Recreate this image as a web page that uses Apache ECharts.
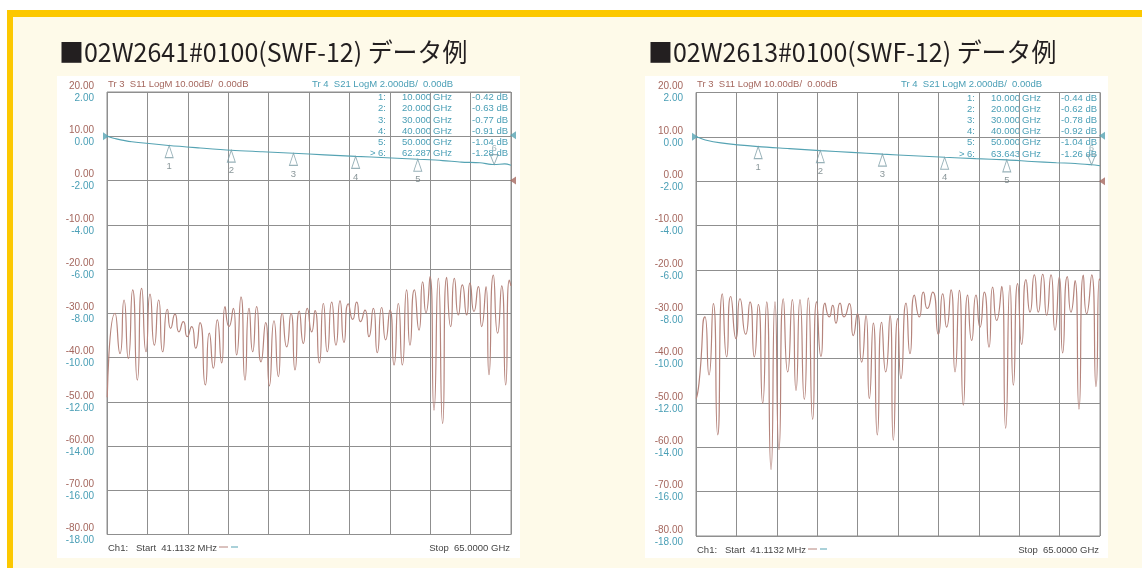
<!DOCTYPE html>
<html><head><meta charset="utf-8">
<script src="https://cdn.jsdelivr.net/npm/echarts@6/dist/echarts.min.js"></script>
<style>
html,body{margin:0;padding:0;background:#fff;}
#wrap{position:relative;width:1142px;height:568px;overflow:hidden;background:#fff;}
#cream{position:absolute;left:7px;top:10px;right:0;bottom:0;background:#fefae9;}
.band{position:absolute;background:#fcc800;}
.panel{position:absolute;background:#fff;}
#chart{position:absolute;left:0;top:0;width:1142px;height:568px;}
</style></head>
<body>
<div id="wrap">
  <div id="cream"></div>
  <div class="band" style="left:7px;top:10px;width:1135px;height:7px;"></div>
  <div class="band" style="left:7px;top:10px;width:6px;height:558px;"></div>
  <div class="panel" style="left:57px;top:76px;width:463px;height:482px;"></div>
  <div class="panel" style="left:645px;top:76px;width:463px;height:482px;"></div>
  <div id="chart"></div>
</div>
<script>
// ---------- data ----------
const TITLES = ['■02W2641#0100(SWF-12) データ例', '■02W2613#0100(SWF-12) データ例'];
const X_MIN = 0, X_MAX = 65, X_STEP = 6.5;               // GHz, 10 divisions
const S11_TICKS = [20, 10, 0, -10, -20, -30, -40, -50, -60, -70, -80];
const S21_TICKS = [2, 0, -2, -4, -6, -8, -10, -12, -14, -16, -18];

// Panel A (02W2641) S11 return loss trace
const S11_A_FREQ = [0.041,1.29,2.09,2.74,3.43,4.13,4.88,5.58,6.27,6.92,7.62,8.31,8.96,9.71,10.24,10.94,11.58,12.28,12.92,13.62,14.27,14.96,15.82,16.46,17.11,17.75,18.45,18.99,19.63,20.33,20.86,21.56,22.20,22.85,23.44,24.08,24.78,25.53,26.12,26.87,27.57,28.21,28.91,29.60,30.25,30.94,31.59,32.23,32.93,33.47,34.16,34.81,35.45,36.15,36.84,37.49,38.13,38.83,39.53,40.17,40.81,41.51,42.15,42.85,43.49,44.19,44.83,45.53,46.18,46.87,47.52,48.21,48.75,49.45,50.20,50.79,51.32,51.97,52.61,53.31,54.00,54.65,55.29,55.88,56.53,57.17,57.87,58.40,59.05,59.74,60.28,60.98,61.46,62.16,62.85,63.50,64.14,64.73,65.0];
const S11_A_DB = [-49.0,-30.0,-39.1,-27.0,-40.2,-24.7,-45.1,-24.4,-38.7,-25.7,-37.2,-27.0,-38.7,-29.1,-33.4,-30.2,-34.2,-31.9,-35.3,-33.0,-37.9,-32.1,-46.2,-34.5,-42.4,-31.5,-41.2,-28.5,-33.0,-28.9,-39.4,-26.3,-45.1,-28.9,-38.7,-28.5,-41.0,-32.1,-46.4,-31.7,-44.3,-30.0,-37.6,-30.0,-42.8,-29.5,-36.8,-28.9,-34.2,-29.4,-41.2,-27.8,-38.7,-27.5,-37.2,-27.2,-36.6,-27.9,-31.4,-27.5,-31.9,-29.3,-35.3,-28.9,-38.9,-28.7,-36.0,-29.3,-41.7,-27.8,-41.7,-24.7,-37.2,-24.7,-33.8,-22.9,-29.9,-21.7,-51.9,-22.1,-54.9,-21.9,-33.0,-22.1,-30.4,-23.6,-30.4,-23.2,-29.6,-24.0,-33.0,-24.0,-43.9,-21.4,-34.5,-23.8,-46.2,-22.5,-23.8];
// Panel A S21 insertion loss trace
const S21_A_FREQ = [0.041,1.5,4,10,15,20,25,30,35,40,45,50,54,57,60,62.287,64,65];
const S21_A_DB = [0.0,-0.12,-0.25,-0.42,-0.53,-0.63,-0.70,-0.77,-0.84,-0.91,-0.97,-1.04,-1.10,-1.17,-1.20,-1.28,-1.25,-1.31];
// Panel A markers
const MK_A_FREQ = ['10.000','20.000','30.000','40.000','50.000','62.287'];
const MK_A_DB = [-0.42,-0.63,-0.77,-0.91,-1.04,-1.28];

// Panel B (02W2613) S11
const S11_B_FREQ = [0.041,0.48,1.45,2.09,2.79,3.49,4.24,4.93,5.58,6.44,7.08,7.99,8.69,9.39,10.03,10.73,11.37,12.07,12.71,13.35,14.05,14.75,15.50,16.09,16.73,17.43,18.07,18.77,19.41,20.11,20.75,21.45,21.99,22.52,23.17,23.81,24.67,25.31,25.96,26.65,27.35,27.89,28.53,29.17,29.87,30.52,31.21,31.75,32.45,32.98,33.79,34.43,35.13,35.93,36.58,37.22,38.08,38.99,39.69,40.33,41.03,41.67,42.37,43.01,43.71,44.35,45.05,45.69,46.39,47.14,47.73,48.37,49.18,49.82,50.52,51.06,51.75,52.40,53.09,53.74,54.43,55.08,55.78,56.42,57.12,57.76,58.46,58.99,59.74,60.33,60.98,61.62,62.32,62.85,63.66,64.36,64.89,65.0];
const S11_B_DB = [-49.0,-45.6,-30.6,-43.7,-27.6,-57.2,-25.4,-39.6,-26.0,-35.5,-26.5,-34.5,-27.2,-39.6,-27.8,-50.1,-27.2,-65.0,-27.2,-60.5,-26.5,-43.0,-26.7,-47.2,-26.7,-49.2,-26.3,-53.7,-27.2,-39.5,-27.5,-30.6,-28.0,-32.0,-27.5,-30.6,-27.6,-34.8,-29.9,-40.8,-30.3,-49.0,-32.0,-57.2,-31.8,-43.0,-30.3,-58.4,-31.0,-44.5,-27.5,-38.9,-25.7,-30.6,-25.0,-28.7,-25.0,-34.5,-25.4,-32.9,-24.5,-43.0,-24.6,-50.5,-25.7,-35.9,-25.7,-32.9,-25.0,-37.4,-23.9,-31.4,-23.7,-55.7,-23.5,-46.0,-23.1,-36.8,-22.2,-29.5,-21.1,-29.5,-21.0,-30.2,-21.1,-33.6,-21.6,-38.7,-21.5,-29.5,-22.4,-51.4,-21.2,-29.9,-21.1,-46.3,-22.0,-22.4];
const S21_B_FREQ = [0.041,1.5,4,10,15,20,25,30,35,40,45,50,54,58,61,63.643,65];
const S21_B_DB = [0.0,-0.14,-0.27,-0.44,-0.53,-0.62,-0.70,-0.78,-0.85,-0.92,-0.98,-1.04,-1.11,-1.17,-1.20,-1.26,-1.30];
const MK_B_FREQ = ['10.000','20.000','30.000','40.000','50.000','63.643'];
const MK_B_DB = [-0.44,-0.62,-0.78,-0.92,-1.04,-1.26];

const HDR_S11 = 'Tr 3  S11 LogM 10.00dB/  0.00dB';
const HDR_S21 = 'Tr 4  S21 LogM 2.000dB/  0.00dB';
const FOOT_START = 'Ch1:   Start  41.1132 MHz';
const FOOT_STOP = 'Stop  65.0000 GHz';

// ---------- style ----------
const C_S11 = '#b5847c', C_S11_TXT = '#a5675e';
const C_S21 = '#55a3b3', C_S21_TXT = '#4a9fb6';
const C_GRID = '#8f8f8f', C_MK = '#7d9ea6', C_MKTXT = '#6c7c80';
const FONT = '"Liberation Sans", Arial, sans-serif';

const zip = (a, b) => a.map((v, i) => [v, b[i]]);

const panels = [
  {dx: 0, left: 107, top: 92, h: 442.5, s11: zip(S11_A_FREQ, S11_A_DB), s21: zip(S21_A_FREQ, S21_A_DB), mkF: MK_A_FREQ, mkD: MK_A_DB, title: TITLES[0]},
  {dx: 589, left: 696, top: 92.5, h: 443.5, s11: zip(S11_B_FREQ, S11_B_DB), s21: zip(S21_B_FREQ, S21_B_DB), mkF: MK_B_FREQ, mkD: MK_B_DB, title: TITLES[1]}
];

const grid = [], xAxis = [], yAxis = [], series = [], graphic = [];
const UP = 'path://M5,0 L10,12 L0,12 Z';
const DOWN = 'path://M0,0 L10,0 L5,12 Z';
const RIGHT = 'path://M0,0 L8,5 L0,10 Z';
const LEFT = 'path://M8,0 L0,5 L8,10 Z';

panels.forEach((p, gi) => {
  grid.push({left: p.left, top: p.top, width: 404, height: p.h, show: true, borderColor: C_GRID, borderWidth: 1, backgroundColor: 'transparent'});
  xAxis.push({gridIndex: gi, type: 'value', min: X_MIN, max: X_MAX, interval: X_STEP,
    axisLine: {show: false}, axisTick: {show: false}, axisLabel: {show: false},
    splitLine: {show: true, lineStyle: {color: C_GRID, width: 1}}});
  const s11Min = Math.min(...S11_TICKS), s11Max = Math.max(...S11_TICKS);
  const s21Min = Math.min(...S21_TICKS), s21Max = Math.max(...S21_TICKS);
  yAxis.push({gridIndex: gi, type: 'value', min: s11Min, max: s11Max, interval: S11_TICKS[0] - S11_TICKS[1], position: 'left',
    axisLine: {show: false}, axisTick: {show: false},
    splitLine: {show: true, lineStyle: {color: C_GRID, width: 1}},
    axisLabel: {showMinLabel: true, showMaxLabel: true, color: C_S11_TXT, fontFamily: FONT, fontSize: 10, margin: 13,
      verticalAlign: 'bottom', padding: [0, 0, 1, 0], formatter: v => v.toFixed(2)}});
  yAxis.push({gridIndex: gi, type: 'value', min: s21Min, max: s21Max, interval: S21_TICKS[0] - S21_TICKS[1], position: 'left',
    axisLine: {show: false}, axisTick: {show: false}, splitLine: {show: false},
    axisLabel: {showMinLabel: true, showMaxLabel: true, color: C_S21_TXT, fontFamily: FONT, fontSize: 10, margin: 13,
      verticalAlign: 'top', padding: [1, 0, 0, 0], formatter: v => v.toFixed(2)}});
  const y11 = gi * 2, y21 = gi * 2 + 1;
  series.push({type: 'line', xAxisIndex: gi, yAxisIndex: y11, data: p.s11, showSymbol: false, smooth: 0.7,
    lineStyle: {color: C_S11, width: 1.2}, silent: true, z: 3});
  series.push({type: 'line', xAxisIndex: gi, yAxisIndex: y21, data: p.s21, showSymbol: false, smooth: 0.3,
    lineStyle: {color: C_S21, width: 1.1}, silent: true, z: 4});
  // markers 1-5 (up triangles below trace)
  series.push({type: 'scatter', xAxisIndex: gi, yAxisIndex: y21, silent: true, z: 5, clip: false,
    data: p.mkF.slice(0, 5).map((f, i) => [parseFloat(f), p.mkD[i]]),
    symbol: UP, symbolSize: [8, 12], symbolOffset: [0, 6],
    itemStyle: {color: 'rgba(0,0,0,0)', borderColor: C_MK, borderWidth: 1},
    label: {show: true, position: 'bottom', distance: 3, color: C_MKTXT, fontSize: 9.5, fontFamily: FONT,
      formatter: o => String(o.dataIndex + 1)}});
  // active marker 6 (down triangle above trace)
  series.push({type: 'scatter', xAxisIndex: gi, yAxisIndex: y21, silent: true, z: 5, clip: false,
    data: [[parseFloat(p.mkF[5]), p.mkD[5]]],
    symbol: DOWN, symbolSize: [8, 10], symbolOffset: [0, -5],
    itemStyle: {color: 'rgba(0,0,0,0)', borderColor: C_MK, borderWidth: 1},
    label: {show: true, position: 'top', distance: 1, color: C_MK, fontSize: 9, fontFamily: FONT, formatter: '6'}});
  // reference level arrows
  series.push({type: 'scatter', xAxisIndex: gi, yAxisIndex: y21, silent: true, z: 6, clip: false,
    data: [[X_MIN, 0]], symbol: RIGHT, symbolSize: [6, 8], symbolOffset: [-1, 0], itemStyle: {color: C_S21}});
  series.push({type: 'scatter', xAxisIndex: gi, yAxisIndex: y21, silent: true, z: 6, clip: false,
    data: [[X_MAX, 0]], symbol: LEFT, symbolSize: [6, 8], symbolOffset: [2, -1], itemStyle: {color: C_S21}});
  series.push({type: 'scatter', xAxisIndex: gi, yAxisIndex: y11, silent: true, z: 6, clip: false,
    data: [[X_MAX, 0]], symbol: LEFT, symbolSize: [6, 8], symbolOffset: [2, 0], itemStyle: {color: C_S11_TXT}});

  const dx = p.dx;
  graphic.push({type: 'text', x: 59 + dx, y: 52, scaleX: 0.96, originX: 0, originY: 0,
    style: {text: p.title, font: '26px "Noto Sans CJK JP"', fill: '#231f20', verticalAlign: 'middle'}});
  graphic.push({type: 'text', x: 108 + dx, y: 84.5, style: {text: HDR_S11, font: '9.5px ' + FONT, fill: C_S11_TXT, verticalAlign: 'middle'}});
  graphic.push({type: 'text', x: 312 + dx, y: 84.5, style: {text: HDR_S21, font: '9.5px ' + FONT, fill: C_S21_TXT, verticalAlign: 'middle'}});
  p.mkF.forEach((f, i) => {
    const yy = 97.5 + 11.2 * i + (gi ? 0.5 : 0);
    const idx = (i === 5 ? '> ' : '') + (i + 1) + ':';
    graphic.push({type: 'text', x: 386 + dx, y: yy, style: {text: idx, font: '9.5px ' + FONT, fill: C_S21_TXT, align: 'right', verticalAlign: 'middle'}});
    graphic.push({type: 'text', x: 431 + dx, y: yy, style: {text: f, font: '9.5px ' + FONT, fill: C_S21_TXT, align: 'right', verticalAlign: 'middle'}});
    graphic.push({type: 'text', x: 433 + dx, y: yy, style: {text: 'GHz', font: '9.5px ' + FONT, fill: C_S21_TXT, align: 'left', verticalAlign: 'middle'}});
    graphic.push({type: 'text', x: 508 + dx, y: yy, style: {text: p.mkD[i].toFixed(2) + ' dB', font: '9.5px ' + FONT, fill: C_S21_TXT, align: 'right', verticalAlign: 'middle'}});
  });
  const fy = 548 + (gi ? 2 : 0);
  graphic.push({type: 'text', x: 108 + dx, y: fy, style: {text: FOOT_START, font: '9.5px ' + FONT, fill: '#444', verticalAlign: 'middle'}});
  graphic.push({type: 'line', shape: {x1: 219 + dx, y1: fy - 1, x2: 228 + dx, y2: fy - 1}, style: {stroke: C_S11, lineWidth: 1}});
  graphic.push({type: 'line', shape: {x1: 231 + dx, y1: fy - 1, x2: 238 + dx, y2: fy - 1}, style: {stroke: C_S21, lineWidth: 1}});
  graphic.push({type: 'text', x: 510 + dx, y: fy, style: {text: FOOT_STOP, font: '9.5px ' + FONT, fill: '#444', align: 'right', verticalAlign: 'middle'}});
});

const chart = echarts.init(document.getElementById('chart'), null, {renderer: 'canvas'});
chart.setOption({backgroundColor: 'transparent', animation: false, grid, xAxis, yAxis, series, graphic});
</script>
</body></html>
